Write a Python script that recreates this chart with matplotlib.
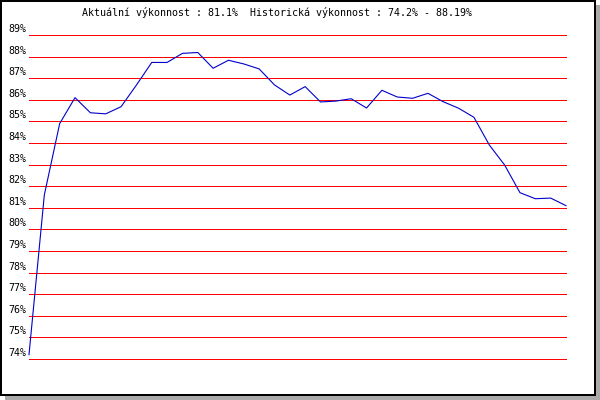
import matplotlib
matplotlib.use("Agg")
import matplotlib.pyplot as plt
from matplotlib.patches import Rectangle

# performance samples (%)
vykon = [74.2, 81.6, 84.9, 86.1, 85.4, 85.35, 85.68, 86.68, 87.73, 87.73,
         88.15, 88.19, 87.46, 87.83, 87.66, 87.43, 86.69, 86.22, 86.61, 85.9,
         85.94, 86.05, 85.62, 86.44, 86.13, 86.07, 86.3, 85.91, 85.61, 85.19,
         83.91, 82.98, 81.7, 81.42, 81.45, 81.1]
urovne = list(range(74, 90))
titulek = "Aktuální výkonnost : 81.1%  Historická výkonnost : 74.2% - 88.19%"

W, H = 600, 400
fig = plt.figure(figsize=(6, 4), dpi=100, facecolor="white")

# frame with drop shadow, drawn in pixel coordinates
bg = fig.add_axes([0, 0, 1, 1])
bg.set_xlim(0, W)
bg.set_ylim(H, 0)
bg.axis("off")
bg.add_patch(Rectangle((5, 5), 595, 395, facecolor="#aaaaaa", edgecolor="none"))
bg.add_patch(Rectangle((0, 0), 596, 396, facecolor="black", edgecolor="none"))
bg.add_patch(Rectangle((2, 2), 592, 392, facecolor="white", edgecolor="none"))
bg.text(82, 13, titulek, family="DejaVu Sans Mono", fontsize=7.2,
        ha="left", va="center", color="black")

# plot area 29..566 x 35..359 px
ax = fig.add_axes([29 / W, 1 - 359 / H, (566 - 29) / W, 324 / H])
ax.set_xlim(0, len(vykon) - 1)
ax.set_ylim(74, 89)
ax.axis("off")
ax.patch.set_alpha(0)

for u in urovne:
    ax.axhline(u, color="#ff0000", lw=0.72, clip_on=False)
    ax.annotate(f"{u}%", xy=(0, u), xycoords=ax.get_yaxis_transform(),
                xytext=(-3, 6), textcoords="offset pixels",
                ha="right", va="center", family="DejaVu Sans Mono",
                fontsize=7.2, color="black", annotation_clip=False)

ax.plot(range(len(vykon)), vykon, color="#0000cc", lw=0.8, clip_on=False)

fig.savefig("out.png", dpi=100, facecolor="white")
